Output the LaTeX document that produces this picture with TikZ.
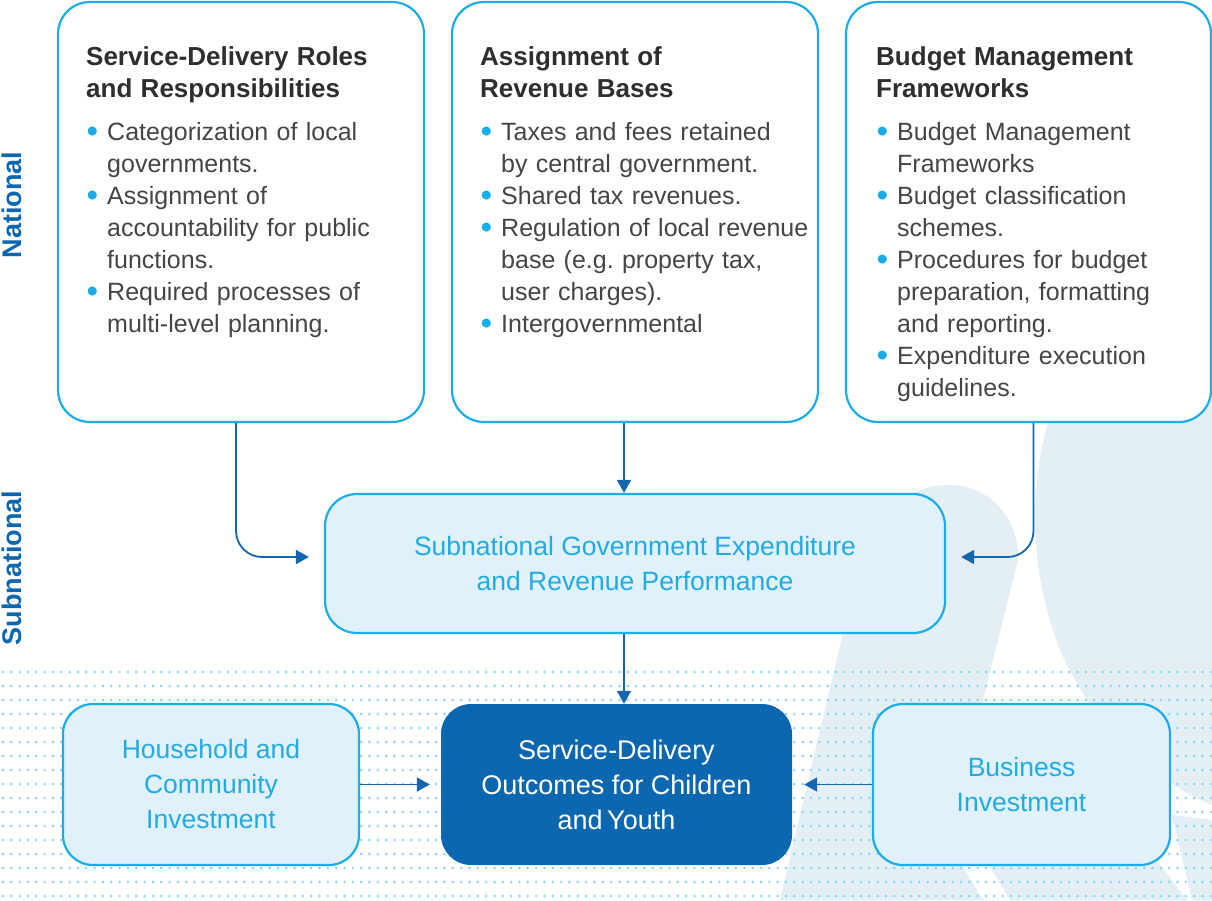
\documentclass[tikz,border=0pt]{standalone}
\usepackage{fontspec}
\setmainfont{Liberation Sans}
\usetikzlibrary{arrows.meta, positioning}

\definecolor{linecyan}{HTML}{1AADE6}
\definecolor{paleblue}{HTML}{E0F1FB}
\definecolor{deepblue}{HTML}{0C67B1}
\definecolor{arrowblue}{HTML}{1566AF}
\definecolor{textcyan}{HTML}{22AAE2}
\definecolor{headgrey}{HTML}{2E2E2E}
\definecolor{bodygrey}{HTML}{454545}
\definecolor{dotcyan}{HTML}{7FD0F4}
\definecolor{bgtint}{HTML}{E4EEF5}

\newcommand{\boxhead}[1]{{\noindent\fontsize{26}{32}\selectfont\bfseries\color{headgrey}#1\par}\vspace{11pt}}
\newcommand{\bitem}[1]{\par\noindent\hangindent=21pt\hangafter=1\makebox[21pt][l]{\hspace{0.5pt}\raisebox{-2.5pt}{\fontsize{33}{33}\selectfont\textcolor{linecyan}{\textbullet}}}#1}

\begin{document}
\begin{tikzpicture}[x=1pt, y=-1pt,
    topbox/.style={draw=linecyan, line width=2.2pt, fill=white, rounded corners=32pt,
        minimum width=366pt, minimum height=420pt, inner sep=0pt},
    midbox/.style={draw=linecyan, line width=2.2pt, fill=paleblue, rounded corners=30pt,
        inner sep=0pt, align=center, text=textcyan, font=\fontsize{26.5}{35}\selectfont},
    darkbox/.style={fill=deepblue, rounded corners=30pt, inner sep=0pt, align=center,
        text=white, font=\fontsize{27}{35}\selectfont},
    listtext/.style={text width=340pt, inner sep=0pt, text=bodygrey,
        font=\fontsize{25}{32}\selectfont\frenchspacing},
    side/.style={rotate=90, text=deepblue, font=\fontsize{27}{30}\selectfont\bfseries},
    flow/.style={draw=arrowblue, line width=1.8pt, rounded corners=26pt,
        -{Triangle[length=13pt, width=14pt]}}]
    \useasboundingbox (0,0) rectangle (1212,900);

    % backdrop shapes
    \fill[bgtint] (1055,400) .. controls (1030,470) and (1025,560) .. (1060,650)
        .. controls (1090,720) and (1150,780) .. (1212,805) -- (1212,400) -- cycle;
    \fill[bgtint] (780,900) -- (843,633) -- (890,520) .. controls (905,492) and (925,485) .. (950,485)
        .. controls (990,485) and (1020,520) .. (1018,560) -- (983,700) -- (955,815)
        -- (963,867) -- (983,900) -- cycle;
    \fill[bgtint] (1010,900) -- (990,867) -- (980,850) -- (1145,845) -- (1187,900) -- cycle;
    \fill[bgtint] (1172,815) -- (1212,820) -- (1212,900) -- (1192,900) -- cycle;

    % dotted band
    \foreach \r in {0,...,16} {
        \foreach \c in {0,...,145} {
            \fill[dotcyan] ({3+8.33*\c},{672+14*\r}) circle (1.35pt);
        }
    }

    % side labels
    \node[side] (national) at (12,205) {National};
    \node[side] (subnational) at (12,568) {Subnational};

    % national boxes
    \node[topbox] (roles) at (241,212) {};
    \node[topbox] (revenue) at (635,212) {};
    \node[topbox, minimum width=365pt] (budget) at (1028.5,212) {};

    \node[listtext, anchor=base west] (rolestext) at (86,65) {%
        \boxhead{Service-Delivery Roles\newline and Responsibilities}%
        \bitem{Categorization of local\newline governments.}
        \bitem{Assignment of\newline accountability for public\newline functions.}
        \bitem{Required processes of\newline multi-level planning.}\par};
    \node[listtext, anchor=base west] (revenuetext) at (480,65) {%
        \boxhead{Assignment of\newline Revenue Bases}%
        \bitem{Taxes and fees retained\newline by central government.}
        \bitem{Shared tax revenues.}
        \bitem{Regulation of local revenue\newline base (e.g. property tax,\newline user charges).}
        \bitem{Intergovernmental}\par};
    \node[listtext, anchor=base west] (budgettext) at (876,65) {%
        \boxhead{Budget Management\newline Frameworks}%
        \bitem{Budget Management\newline Frameworks}
        \bitem{Budget classification\newline schemes.}
        \bitem{Procedures for budget\newline preparation, formatting\newline and reporting.}
        \bitem{Expenditure execution\newline guidelines.}\par};

    % subnational level
    \node[midbox, minimum width=620pt, minimum height=139pt, rounded corners=32pt] (sub) at (635,563.5)
        {Subnational Government Expenditure\\and Revenue Performance};

    % outcomes row
    \node[midbox, minimum width=296pt, minimum height=161pt] (house) at (211,784.5)
        {Household and\\Community\\Investment};
    \node[darkbox, minimum width=351pt, minimum height=161pt] (outcome) at (616.5,784.5)
        {Service-Delivery\\Outcomes for Children\\and\,Youth};
    \node[midbox, minimum width=297pt, minimum height=161pt] (business) at (1021.5,784.5)
        {Business\\Investment};

    % arrows
    \draw[flow] ([xshift=-5pt]roles.south) |- ([xshift=-15pt, yshift=6.5pt]sub.west);
    \draw[flow] ([xshift=-11pt]revenue.south) -- ([xshift=-11pt]sub.north);
    \draw[flow] ([xshift=5pt]budget.south) |- ([xshift=15pt, yshift=6.5pt]sub.east);
    \draw[flow] ([xshift=-11pt]sub.south) -- ([xshift=7.5pt]outcome.north);
    \draw[flow] (house.east) -- ([xshift=-11pt]outcome.west);
    \draw[flow] (business.west) -- ([xshift=12pt]outcome.east);
\end{tikzpicture}
\end{document}
